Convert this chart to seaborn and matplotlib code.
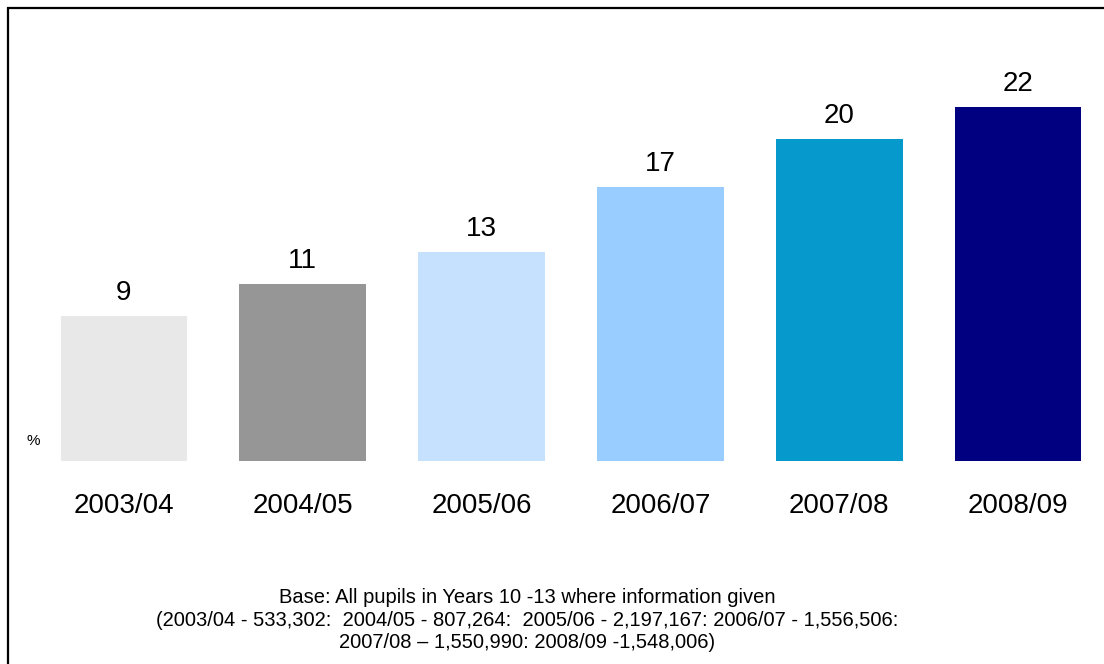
import matplotlib
matplotlib.use("Agg")
import matplotlib.pyplot as plt
from matplotlib.patches import Rectangle
import seaborn as sns
import pandas as pd

categories = ["2003/04", "2004/05", "2005/06", "2006/07", "2007/08", "2008/09"]
values = [9, 11, 13, 17, 20, 22]
colors = ["#E8E8E8", "#969696", "#C6E1FD", "#99CCFF", "#0599CC", "#000080"]
footnote = ("Base: All pupils in Years 10 -13 where information given\n"
            "(2003/04 - 533,302:  2004/05 - 807,264:  2005/06 - 2,197,167: 2006/07 - 1,556,506:\n"
            "2007/08 \u2013 1,550,990: 2008/09 -1,548,006)")

sns.set_theme(style="white")
plt.rcParams['font.family'] = ['Liberation Sans', 'DejaVu Sans']

W, H = 1104, 664
fig = plt.figure(figsize=(W / 100, H / 100), dpi=100)
ppu = 16.09
ax_left = 34.6 / W
ax_bottom = (H - 461) / H
ax_h = 25 * ppu / H
ax = fig.add_axes([ax_left, ax_bottom, 1 - ax_left, ax_h])

df = pd.DataFrame({"cat": categories, "val": values})
sns.barplot(data=df, x="cat", y="val", hue="cat", palette=colors, legend=False,
            width=0.71, saturation=1, linewidth=0, ax=ax)
ax.set_xlim(-0.5, 5.481)
ax.set_ylim(0, 25)
for i, v in enumerate(values):
    ax.annotate(str(v), (i, v), xytext=(0, 16), textcoords="offset pixels",
                ha="center", va="baseline", fontsize=20, color="black")
for s in ax.spines.values():
    s.set_visible(False)
ax.set_yticks([])
ax.set_xlabel("")
ax.set_ylabel("")
ax.tick_params(axis="x", length=0, pad=23, labelsize=20, labelcolor="black")

fig.text(33 / W, 1 - 441 / H, "%", fontsize=11, ha="center", va="center", color="black")
fig.text(527 / W, 1 - 620 / H, footnote, fontsize=14.5, ha="center", va="center",
         linespacing=1.26, color="black")

border = Rectangle((8 / W, -0.1), 1.2, 1.1 - 8 / H, transform=fig.transFigure,
                   fill=False, edgecolor="black", linewidth=1.6, clip_on=False)
fig.patches.append(border)

fig.savefig("out.png", dpi=100, facecolor="white")
